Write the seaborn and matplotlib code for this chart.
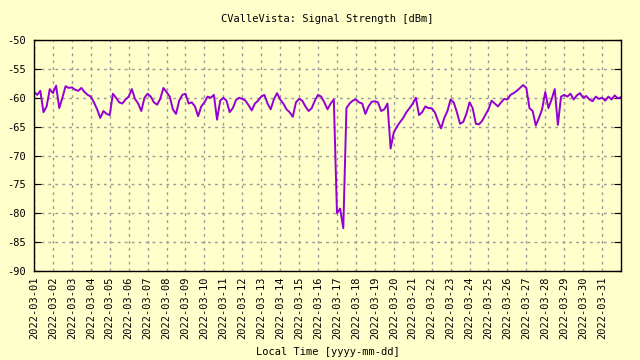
import pandas as pd
import seaborn as sns
import matplotlib.pyplot as plt
import matplotlib.dates as mdates

# signal strength, 6 samples per day (every 4 h)
day01 = [-59.0, -59.5, -58.8, -62.5, -61.5, -58.5]
day02 = [-59.2, -57.9, -61.8, -60.0, -58.0, -58.3]
day03 = [-58.2, -58.6, -58.8, -58.3, -59.0, -59.5]
day04 = [-59.8, -60.8, -62.0, -63.5, -62.3, -62.8]
day05 = [-63.0, -59.3, -60.0, -60.8, -61.0, -60.3]
day06 = [-59.8, -58.5, -60.2, -61.0, -62.3, -60.0]
day07 = [-59.3, -59.8, -60.8, -61.2, -60.2, -58.3]
day08 = [-59.0, -59.8, -62.0, -62.8, -60.5, -59.5]
day09 = [-59.3, -61.0, -60.8, -61.5, -63.2, -61.5]
day10 = [-60.8, -59.8, -60.0, -59.5, -63.8, -60.5]
day11 = [-60.0, -60.5, -62.5, -61.8, -60.4, -60.0]
day12 = [-60.2, -60.5, -61.3, -62.2, -61.0, -60.5]
day13 = [-59.8, -59.5, -61.0, -62.0, -60.3, -59.2]
day14 = [-60.3, -61.0, -62.0, -62.5, -63.3, -60.8]
day15 = [-60.2, -60.5, -61.5, -62.3, -61.8, -60.5]
day16 = [-59.5, -59.8, -60.8, -62.0, -61.0, -60.3]
day17 = [-80.0, -79.2, -82.6, -61.8, -61.0, -60.5]
day18 = [-60.3, -60.8, -61.0, -62.8, -61.5, -60.7]
day19 = [-60.6, -60.8, -62.3, -62.0, -61.0, -68.8]
day20 = [-66.0, -65.0, -64.2, -63.5, -62.5, -61.8]
day21 = [-61.0, -60.0, -63.0, -62.5, -61.5, -61.8]
day22 = [-61.8, -62.5, -64.0, -65.3, -63.5, -62.3]
day23 = [-60.3, -60.8, -62.5, -64.5, -64.2, -62.8]
day24 = [-60.8, -61.8, -64.5, -64.6, -64.0, -63.0]
day25 = [-62.0, -60.5, -61.0, -61.5, -60.8, -60.2]
day26 = [-60.3, -59.5, -59.2, -58.8, -58.3, -57.8]
day27 = [-58.3, -61.8, -62.3, -64.8, -63.5, -62.0]
day28 = [-59.0, -61.8, -60.3, -58.5, -64.7, -59.8]
day29 = [-59.5, -59.8, -59.3, -60.3, -59.6, -59.2]
day30 = [-60.0, -59.7, -60.3, -60.6, -59.8, -60.2]
day31 = [-60.0, -60.5, -59.8, -60.3, -59.6, -60.1]
last_value = [-59.9]

signal = (day01 + day02 + day03 + day04 + day05 + day06 + day07 + day08 +
          day09 + day10 + day11 + day12 + day13 + day14 + day15 + day16 +
          day17 + day18 + day19 + day20 + day21 + day22 + day23 + day24 +
          day25 + day26 + day27 + day28 + day29 + day30 + day31 + last_value)

times = pd.date_range("2022-03-01", periods=len(signal), freq="4h")
df = pd.DataFrame({"time": times, "dBm": signal})

tick_days = pd.date_range("2022-03-01", "2022-03-31", freq="D")
y_ticks = [-90, -85, -80, -75, -70, -65, -60, -55, -50]

bg = "#ffffcc"
plt.rcParams["axes.unicode_minus"] = False
plt.rcParams["font.family"] = ["DejaVu Sans Mono"]

fig = plt.figure(figsize=(6.4, 3.6), dpi=100, facecolor=bg)
ax = fig.add_axes([34 / 640, 1 - 271 / 360, 587 / 640, 231 / 360])
ax.set_facecolor(bg)

sns.lineplot(data=df, x="time", y="dBm", ax=ax, color="#9400d3", linewidth=1.4)

ax.set_xlim(pd.Timestamp("2022-03-01"), pd.Timestamp("2022-04-01"))
ax.set_ylim(-90, -50)
ax.set_xticks(tick_days)
ax.xaxis.set_major_formatter(mdates.DateFormatter("%Y-%m-%d"))
ax.set_yticks(y_ticks)

ax.grid(True, color="#999999", linestyle=(0, (2, 3)), linewidth=1.0)
for s in ax.spines.values():
    s.set_color("black")
    s.set_linewidth(1.0)

ax.tick_params(axis="x", length=0, labelsize=7.5, rotation=90, pad=4)
ax.tick_params(axis="y", direction="in", length=5, right=True, labelsize=7.5, pad=6)

ax.set_title("CValleVista: Signal Strength [dBm]", fontsize=7.5, pad=13)
ax.set_xlabel("Local Time [yyyy-mm-dd]", fontsize=7.5, labelpad=6)
ax.set_ylabel("")

fig.savefig("out.png", dpi=100, facecolor=bg)
